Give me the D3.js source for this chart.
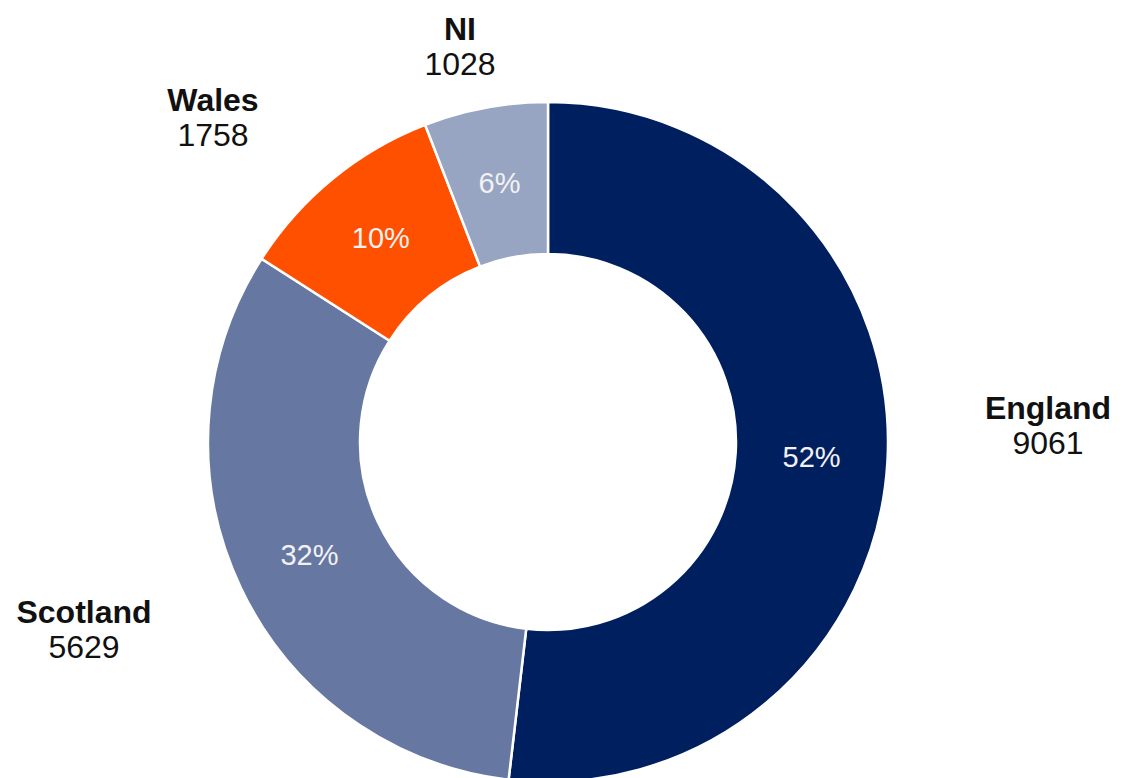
<!DOCTYPE html>
<html><head><meta charset="utf-8">
<script src="https://cdn.jsdelivr.net/npm/d3@7"></script>
<style>html,body{margin:0;padding:0;background:#fff;}svg{display:block;}</style>
</head><body>
<div id="chart"></div>
<script>
const categories = ["England", "Scotland", "Wales", "NI"];
const values = [9061, 5629, 1758, 1028];
const colors = ["#001f5f", "#6677a1", "#ff5000", "#98a5c2"];
// label anchor offsets from chart centre (layout only)
const labelOffsets = [[500, -17], [-464, 187], [-335, -325], [-88, -396]];

const W = 1122, H = 778, cx = 548, cy = 442, rOuter = 340, rInner = 188;
const svg = d3.select("#chart").append("svg").attr("width", W).attr("height", H);
const g = svg.append("g").attr("transform", `translate(${cx},${cy})`);

const data = categories.map((c, i) => ({name: c, value: values[i], color: colors[i], off: labelOffsets[i]}));
const total = d3.sum(values);
const pie = d3.pie().value(d => d.value).sort(null);
const arc = d3.arc().innerRadius(rInner).outerRadius(rOuter);
const arcs = pie(data);

g.selectAll("path.slice").data(arcs).join("path").attr("class", "slice")
  .attr("d", arc).attr("fill", d => d.data.color)
  .attr("stroke", "#fff").attr("stroke-width", 2.5);

g.selectAll("text.pct").data(arcs).join("text").attr("class", "pct")
  .attr("transform", d => `translate(${arc.centroid(d)})`)
  .attr("text-anchor", "middle").attr("dy", "0.35em")
  .attr("font-family", "Liberation Sans, Arial, sans-serif").attr("font-size", 29)
  .attr("fill", "#f2f2f2")
  .text(d => Math.round(d.data.value / total * 100) + "%");

const lbl = g.selectAll("text.lbl").data(arcs).join("text").attr("class", "lbl")
  .attr("transform", d => `translate(${d.data.off})`)
  .attr("text-anchor", "middle")
  .attr("font-family", "Liberation Sans, Arial, sans-serif").attr("font-size", 32)
  .attr("fill", "#111");
lbl.append("tspan").attr("x", 0).attr("dy", "-0.2em").attr("font-weight", "bold").text(d => d.data.name);
lbl.append("tspan").attr("x", 0).attr("dy", "1.1em").text(d => d.data.value);
</script>
</body></html>
